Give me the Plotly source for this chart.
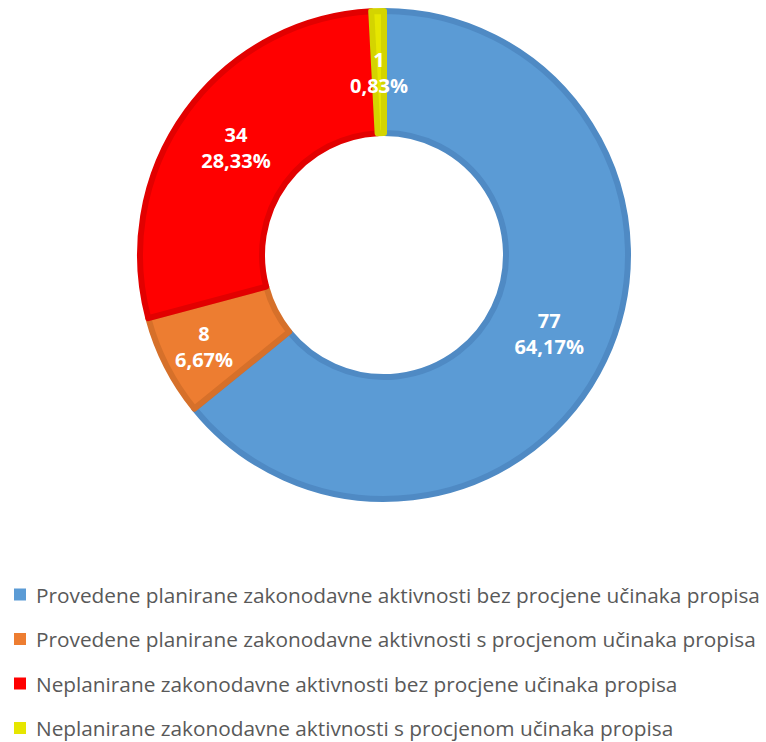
import math
import plotly.graph_objects as go

labels = [
    "Provedene planirane zakonodavne aktivnosti bez procjene učinaka propisa",
    "Provedene planirane zakonodavne aktivnosti s procjenom učinaka propisa",
    "Neplanirane zakonodavne aktivnosti bez procjene učinaka propisa",
    "Neplanirane zakonodavne aktivnosti s procjenom učinaka propisa",
]
values = [77, 8, 34, 1]
fill_colors = ["#5B9BD5", "#ED7D31", "#FF0000", "#E6E600"]
line_colors = ["#4F8AC4", "#D6702A", "#E20000", "#D4D400"]

W, H = 766, 742
cx, cy, R = 384, 255, 244
HOLE = 0.50

label_font = dict(family="Open Sans", size=20, color="white", weight="bold")

# text for slices: the tiny last slice gets its label as an annotation at mid-ring
templates = ["%{value}<br>%{percent:.2%}"] * (len(values) - 1) + [""]

dx0, dx1 = (cx - R) / W, (cx + R) / W
dy0, dy1 = 1 - (cy + R) / H, 1 - (cy - R) / H

fig = go.Figure()
fig.add_trace(go.Pie(
    labels=labels,
    values=values,
    sort=False,
    direction="clockwise",
    rotation=0,
    hole=HOLE,
    marker=dict(colors=fill_colors, line=dict(color=line_colors, width=6)),
    texttemplate=templates,
    textposition="inside",
    insidetextorientation="horizontal",
    textfont=label_font,
    showlegend=False,
    hoverinfo="label+value+percent",
    domain=dict(x=[dx0, dx1], y=[dy0, dy1]),
))

# annotation for last (tiny) slice, positioned from the data
total = sum(values)
start = sum(values[:-1])
mid_frac = (start + values[-1] / 2) / total
ang = 2 * math.pi * mid_frac
rmid = R * (1 + HOLE) / 2
px = (dx0 + dx1) / 2 * W + rmid * math.sin(ang)
py = (1 - (dy0 + dy1) / 2) * H - rmid * math.cos(ang)
pct = f"{values[-1] / total * 100:.2f}".replace(".", ",") + "%"
fig.add_annotation(
    x=px / W, y=1 - py / H, xref="paper", yref="paper",
    text=f"{values[-1]}<br>{pct}", showarrow=False,
    font=label_font, xanchor="center", yanchor="middle",
)

# legend drawn as squares + text rows below the donut
row0, row_step = 594.5, 44.5
sq = 12
for i, (lab, col) in enumerate(zip(labels, fill_colors)):
    yc = row0 + i * row_step
    fig.add_shape(
        type="rect", xref="paper", yref="paper",
        x0=14 / W, x1=(14 + sq) / W,
        y0=1 - (yc + sq / 2) / H, y1=1 - (yc - sq / 2) / H,
        fillcolor=col, line=dict(width=0),
    )
    fig.add_annotation(
        x=34 / W, y=1 - yc / H, xref="paper", yref="paper",
        text=lab, showarrow=False, xanchor="left", yanchor="middle",
        font=dict(family="Open Sans", size=20.8, color="#595959"),
    )

fig.update_layout(
    width=W, height=H,
    margin=dict(l=0, r=0, t=0, b=0, autoexpand=False),
    paper_bgcolor="white", plot_bgcolor="white",
    separators=", ",
    uniformtext=dict(minsize=20, mode="show"),
)

fig.write_html(
    "out.html",
    config={"displayModeBar": False},
    post_script="document.body.style.margin='0px';",
)
